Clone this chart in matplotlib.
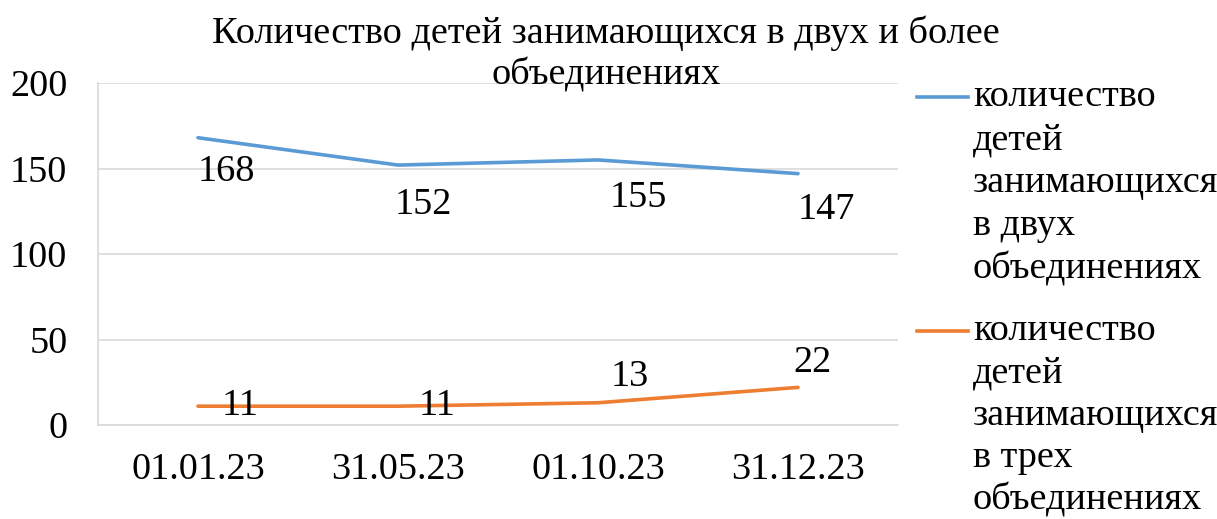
import matplotlib
matplotlib.use("Agg")
import matplotlib.pyplot as plt
from matplotlib.lines import Line2D

categories = ["01.01.23", "31.05.23", "01.10.23", "31.12.23"]
series_two = [168, 152, 155, 147]
series_three = [11, 11, 13, 22]
name_two = "количество детей занимающихся в двух объединениях"
name_three = "количество детей занимающихся в трех объединениях"
title = "Количество детей занимающихся в двух и более\nобъединениях"
yticks = [0, 50, 100, 150, 200]

# label offsets (pixels) — styling only
off_two = [(28, -34), (25, -40), (40, -38), (28, -36)]
off_three = [(42, 0), (39, 0), (32, 26), (14, 25)]

plt.rcParams['font.family'] = ['Liberation Serif', 'DejaVu Serif']
FS = 27.5
blue = "#5B9BD5"
orange = "#ED7D31"

fig = plt.figure(figsize=(12.17, 5.19), dpi=100)
ax = fig.add_axes([98/1217, (519-425)/519, 800/1217, 342/519])
x = list(range(len(categories)))
ax.plot(x, series_two, color=blue, lw=2.6, solid_capstyle='round')
ax.plot(x, series_three, color=orange, lw=2.6, solid_capstyle='round')

for xi, v, (dx, dy) in zip(x, series_two, off_two):
    ax.annotate(str(v), (xi, v), xytext=(dx*0.72, dy*0.72), textcoords='offset points',
                ha='center', va='center', fontsize=FS)
for xi, v, (dx, dy) in zip(x, series_three, off_three):
    ax.annotate(str(v), (xi, v), xytext=(dx*0.72, dy*0.72), textcoords='offset points',
                ha='center', va='center', fontsize=FS)

ax.set_xlim(-0.5, 3.5)
ax.set_ylim(0, 200)
ax.set_yticks(yticks)
ax.set_xticks(x)
ax.set_xticklabels(categories)
ax.tick_params(length=0, labelsize=FS)
ax.tick_params(axis='y', pad=22)
ax.tick_params(axis='x', pad=20)
ax.grid(axis='y', color='#D9D9D9', lw=1.2)
ax.set_axisbelow(True)
for s in ['top', 'right']:
    ax.spines[s].set_visible(False)
for s in ['left', 'bottom']:
    ax.spines[s].set_color('#D9D9D9')
    ax.spines[s].set_linewidth(1.2)

fig.text(606/1217, 1 - 33/519, title.split("\n")[0], ha='center', va='center', fontsize=FS)
fig.text(606/1217, 1 - 75/519, title.split("\n")[1], ha='center', va='center', fontsize=FS)

def legend_entry(name, color, ytop, step):
    fig.add_artist(Line2D([917/1217, 968/1217], [1 - ytop/519]*2, color=color, lw=2.6,
                          transform=fig.transFigure))
    words = name.split(" ")
    lines = [words[0], words[1], words[2], words[3] + " " + words[4], words[5]]
    for i, ln in enumerate(lines):
        fig.text(973/1217, 1 - (ytop + i*step)/519, ln, ha='left', va='center', fontsize=FS)

legend_entry(name_two, blue, 97, 43)
legend_entry(name_three, orange, 331, 42.3)

fig.savefig("out.png", dpi=100)
